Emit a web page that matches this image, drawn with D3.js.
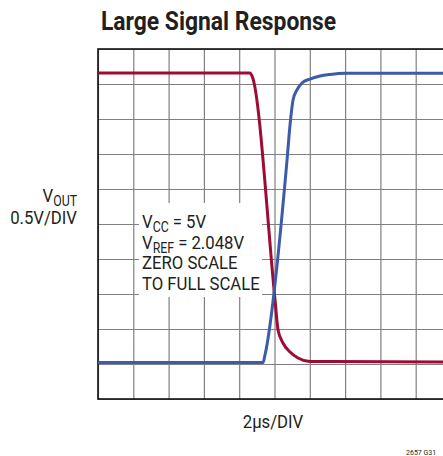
<!DOCTYPE html>
<html>
<head>
<meta charset="utf-8">
<script src="https://cdn.jsdelivr.net/npm/d3@7"></script>
<style>
  body { margin: 0; background: #fff; }
  text { font-family: "Roboto", "Liberation Sans", sans-serif; fill: #231f20; }
</style>
</head>
<body>
<svg id="chart" width="443" height="456"></svg>
<script>
// time in us, output in volts
var redT = [0, 8.61, 8.73, 10.03, 10.2, 10.48, 10.88, 11.33, 12.01, 20];
var redV = [4.137, 4.137, 4.094, 0.894, 0.466, 0.28, 0.151, 0.066, 0.016, 0.01];
var blueT = [0, 9.35, 9.46, 10.71, 10.88, 11.05, 11.27, 11.56, 12.01, 12.58, 13.14, 13.99, 20];
var blueV = [0, 0, 0.109, 2.894, 3.394, 3.751, 3.894, 3.994, 4.051, 4.094, 4.116, 4.133, 4.133];
var xTicks = d3.range(0, 20.01, 2);
var yTicks = d3.range(-0.52, 4.49, 0.5);
var labelLines = [["V", "CC", " = 5V"], ["V", "REF", " = 2.048V"], ["ZERO SCALE"], ["TO FULL SCALE"]];

var svg = d3.select('#chart');
var m = {left: 98, right: 451, top: 49, bottom: 399};
var narrow = 0.88; // condensed look

var x = d3.scaleLinear().domain([0, 20]).range([m.left, m.right]);
var y = d3.scaleLinear().domain([-0.52, 4.48]).range([m.bottom, m.top]);

function label(px, py, size, anchor) {
  return svg.append('text')
    .attr('transform', 'translate(' + px + ',' + py + ') scale(' + narrow + ',1)')
    .attr('text-anchor', anchor || 'start')
    .style('font-size', size + 'px');
}

label(101, 30, 26).style('font-weight', 'bold').text('Large Signal Response');

// grid
var gx = svg.append('g')
  .attr('transform', 'translate(0,' + m.bottom + ')')
  .call(d3.axisBottom(x).tickValues(xTicks).tickSize(-(m.bottom - m.top)).tickFormat(''));
var gy = svg.append('g')
  .attr('transform', 'translate(' + m.left + ',0)')
  .call(d3.axisLeft(y).tickValues(yTicks).tickSize(-(m.right - m.left)).tickFormat(''));
[gx, gy].forEach(function(g) {
  g.select('.domain').remove();
  g.selectAll('.tick line').attr('stroke', '#808080').attr('stroke-width', 1.2);
});

svg.append('rect')
  .attr('x', m.left).attr('y', m.top)
  .attr('width', m.right - m.left).attr('height', m.bottom - m.top)
  .attr('fill', 'none').attr('stroke', '#111').attr('stroke-width', 1.6);

// label box
svg.append('rect')
  .attr('x', 139).attr('y', 203).attr('width', 123).attr('height', 94)
  .attr('fill', '#fff');

var line = d3.line()
  .x(function(d) { return x(d[0]); })
  .y(function(d) { return y(d[1]); })
  .curve(d3.curveMonotoneX);

svg.append('path')
  .datum(d3.zip(redT, redV))
  .attr('d', line)
  .attr('fill', 'none').attr('stroke', '#9e0b34').attr('stroke-width', 3);

svg.append('path')
  .datum(d3.zip(blueT, blueV))
  .attr('d', line)
  .attr('fill', 'none').attr('stroke', '#3c5ba9').attr('stroke-width', 3);

// annotation
labelLines.forEach(function(parts, i) {
  var t = label(142, 228 + i * 20.7, 19);
  t.append('tspan').text(parts[0]);
  if (parts.length > 1) {
    t.append('tspan').attr('dy', 4).style('font-size', '14px').text(parts[1]);
    t.append('tspan').attr('dy', -4).text(parts[2]);
  }
});

// axis labels
var yl = label(77, 202, 19, 'end');
yl.append('tspan').text('V');
yl.append('tspan').attr('dy', 4).style('font-size', '14px').text('OUT');
label(77, 224, 19, 'end').text('0.5V/DIV');

label(273, 428, 19, 'middle').text('2\u00b5s/DIV');

label(406, 455, 8).text('2657 G31');
</script>
</body>
</html>
